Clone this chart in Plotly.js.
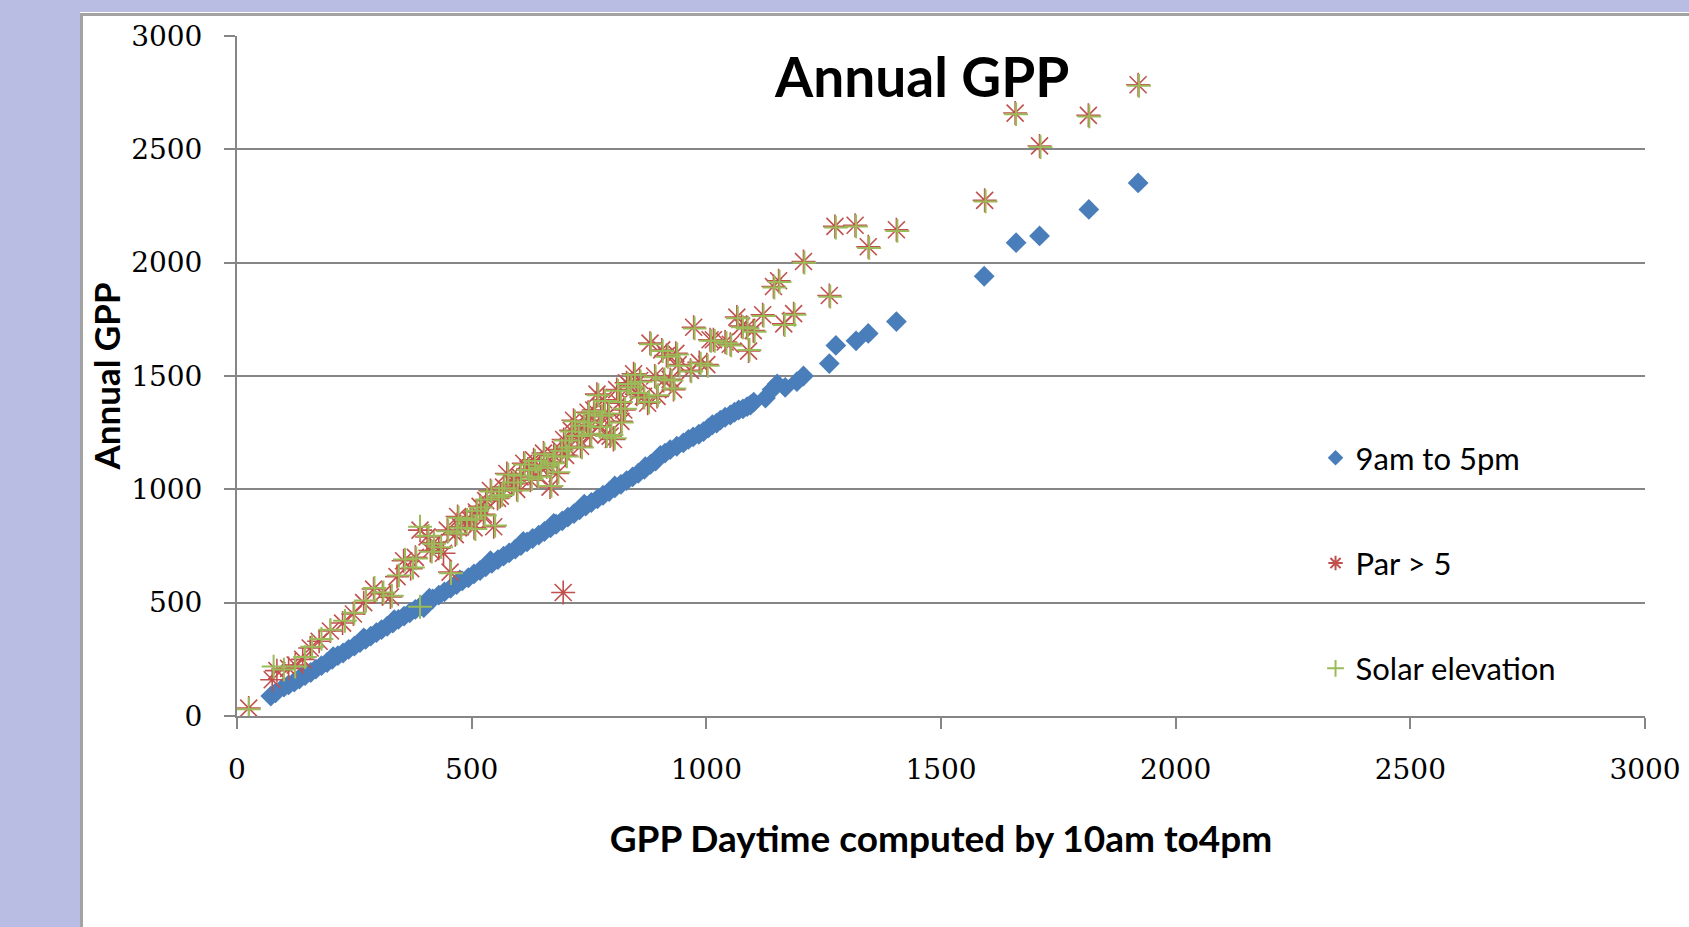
<!DOCTYPE html>
<html>
<head>
<meta charset="utf-8">
<script src="https://cdn.plot.ly/plotly-3.0.1.min.js"></script>
<style>
  html, body { margin: 0; padding: 0; width: 1689px; height: 927px; overflow: hidden; background: #b9bde3; }
  #frame { position: absolute; left: 80px; top: 13px; width: 1700px; height: 1000px; background: #ffffff;
           border-left: 3px solid #a3a3a3; border-top: 3px solid #a3a3a3; box-shadow: 0 -1px 0 #ffffff; }
  #chart { position: absolute; left: 0; top: 0; width: 1689px; height: 927px; }
</style>
</head>
<body>
<div id="frame"></div>
<div id="chart"></div>
<script>
// ---- data ----
const seriesNames = ["9am to 5pm", "Par > 5", "Solar elevation"];

const blueX = [72, 82, 100, 110, 122, 133, 145, 157, 168, 180, 192, 203, 215, 226, 238, 250, 262, 274, 285, 297,
  308, 320, 332, 344, 356, 368, 380, 392, 398, 405, 417, 430, 442, 455, 468, 480, 493, 505, 518, 530,
  543, 556, 568, 580, 593, 605, 618, 630, 643, 655, 668, 680, 693, 705, 718, 730, 743, 755, 768, 780,
  793, 805, 818, 830, 843, 855, 868, 881, 892, 902, 912, 923, 937, 951, 962, 972, 984, 994, 1004, 1013, 1022, 1030, 1040, 1051, 1060, 1069, 1078, 1087, 1094, 1101, 1126,
  1140, 1151, 1168, 1193, 1207, 1262, 1276, 1319, 1345, 1405, 1592, 1660, 1710, 1815, 1920,
  140, 205, 270, 335, 410, 475, 540, 610, 675, 740, 805, 870];
const blueY = [88, 102, 128, 137, 150, 163, 178, 192, 207, 222, 236, 250, 266, 278, 294, 308, 324, 338, 352, 368,
  381, 396, 410, 426, 441, 455, 470, 486, 478, 502, 517, 533, 548, 563, 580, 596, 610, 627, 642, 658,
  673, 690, 705, 720, 736, 752, 768, 783, 798, 814, 830, 846, 861, 877, 893, 910, 926, 942, 958, 974,
  990, 1006, 1022, 1038, 1055, 1071, 1088, 1110, 1125, 1150, 1160, 1175, 1190, 1205, 1220, 1231, 1243, 1255, 1270, 1285, 1292, 1305, 1318, 1328, 1340, 1350, 1355, 1365, 1372, 1385, 1403,
  1440, 1465, 1450, 1475, 1500, 1555, 1635, 1655, 1688, 1740, 1940, 2088, 2118, 2235, 2352,
  180, 262, 345, 425, 520, 600, 685, 770, 850, 935, 1015, 1100];

const parX = [25, 75, 85, 110, 124, 140, 156, 175, 199, 225, 248, 270, 291, 310, 327, 341, 355, 370, 390, 405,
  419, 430, 440, 454, 465, 476, 486, 497, 510, 518, 530, 540, 547, 555, 561, 575, 585, 589, 603, 611,
  620, 625, 632, 645, 653, 660, 667, 675, 682, 689, 695, 696, 705, 717, 725, 738, 745, 752, 760, 767,
  775, 781, 790, 795, 802, 809, 815, 824, 830, 838, 845, 852, 866, 875, 880, 895, 905, 909, 915, 923,
  930, 940, 966, 973, 985, 1001, 1008, 1015, 1040, 1051, 1065, 1075, 1086, 1090, 1100, 1120, 1143, 1154, 1165, 1186,
  1207, 1262, 1274, 1317, 1345, 1405, 1593, 1658, 1710, 1814, 1920,
  380, 412, 448, 470, 505, 525, 568, 596, 640, 672, 700, 712, 732, 748, 772, 786, 818, 858, 890, 935];
const parY = [35, 160, 200, 210, 225, 250, 300, 330, 375, 410, 450, 500, 560, 540, 525, 615, 685, 650, 820, 790,
  765, 740, 718, 635, 800, 835, 860, 865, 900, 925, 950, 995, 835, 960, 970, 1070, 1030, 1025, 1055, 1115,
  1090, 1040, 1130, 1100, 1160, 1100, 1010, 1150, 1070, 1175, 545, 1220, 1180, 1305, 1230, 1275, 1300, 1240, 1350, 1420,
  1320, 1395, 1330, 1235, 1220, 1440, 1380, 1350, 1470, 1455, 1510, 1420, 1410, 1380, 1645, 1410, 1615, 1480, 1590, 1485,
  1440, 1550, 1525, 1715, 1560, 1550, 1660, 1660, 1650, 1640, 1760, 1720, 1715, 1610, 1700, 1770, 1895, 1920, 1730, 1775,
  2005, 1855, 2160, 2165, 2070, 2145, 2275, 2660, 2515, 2650, 2785,
  700, 730, 820, 880, 830, 890, 1010, 1000, 1060, 1120, 1150, 1260, 1190, 1340, 1280, 1240, 1300, 1480, 1500, 1600];

const solX = [25, 78, 100, 124, 145, 160, 180, 199, 230, 250, 275, 293, 312, 330, 345, 358, 375, 390, 390, 408,
  420, 435, 456, 468, 478, 490, 500, 512, 520, 533, 542, 550, 558, 565, 578, 590, 605, 613, 622, 628,
  635, 648, 655, 662, 670, 678, 685, 692, 700, 708, 720, 728, 740, 748, 755, 762, 770, 778, 784, 793,
  798, 805, 812, 818, 827, 833, 840, 848, 855, 868, 878, 882, 897, 907, 911, 918, 926, 932, 943, 968,
  975, 988, 1003, 1010, 1018, 1043, 1053, 1067, 1078, 1088, 1092, 1103, 1122, 1145, 1156, 1167, 1188, 1209, 1264, 1276,
  1319, 1347, 1407, 1595, 1660, 1712, 1816, 1922,
  382, 415, 450, 472, 508, 528, 570, 598, 642, 674, 703, 714, 735, 750, 774, 788, 820, 860, 892, 938];
const solY = [30, 218, 205, 218, 260, 305, 340, 380, 420, 455, 510, 565, 545, 530, 620, 690, 655, 835, 482, 795,
  760, 745, 630, 805, 830, 865, 870, 905, 920, 955, 990, 840, 965, 975, 1065, 1030, 1060, 1110, 1085, 1045,
  1125, 1095, 1155, 1105, 1015, 1145, 1075, 1170, 1215, 1185, 1300, 1235, 1280, 1295, 1245, 1345, 1415, 1325, 1390, 1335,
  1240, 1225, 1435, 1385, 1355, 1465, 1450, 1505, 1425, 1405, 1385, 1640, 1415, 1610, 1485, 1585, 1480, 1445, 1545, 1520,
  1710, 1555, 1545, 1655, 1655, 1645, 1635, 1755, 1715, 1710, 1615, 1695, 1765, 1890, 1915, 1725, 1770, 2000, 1850, 2155,
  2160, 2065, 2140, 2270, 2655, 2510, 2645, 2780,
  695, 725, 815, 875, 825, 885, 1005, 995, 1055, 1115, 1145, 1255, 1185, 1335, 1275, 1235, 1295, 1475, 1495, 1595];

const xTickVals = [0, 500, 1000, 1500, 2000, 2500, 3000];
const yTickVals = [0, 500, 1000, 1500, 2000, 2500, 3000];

// ---- traces ----
const traces = [
  { type: 'scatter', mode: 'markers', name: seriesNames[0], legendgroup: 'a', x: blueX, y: blueY,
    marker: { symbol: 'diamond', size: 16, color: '#4a7ebb', line: { width: 0 } } },
  { type: 'scatter', mode: 'markers', name: seriesNames[1], legendgroup: 'b', x: parX, y: parY,
    marker: { symbol: 'asterisk-open', size: 20, color: '#c0504d', line: { width: 1.6, color: '#c0504d' } } },
  { type: 'scatter', mode: 'markers', name: seriesNames[2], legendgroup: 'c', x: solX, y: solY,
    marker: { symbol: 'cross-thin-open', size: 17, color: '#9bbb59', line: { width: 2, color: '#9bbb59' } } }
];

const layout = {
  width: 1689, height: 927,
  paper_bgcolor: 'rgba(0,0,0,0)', plot_bgcolor: 'rgba(0,0,0,0)',
  margin: { l: 237, r: 44, t: 36, b: 211 },
  showlegend: true,
  title: { text: '<b>Annual GPP</b>', xref: 'container', yref: 'container', x: 0.546, y: 0.916,
           xanchor: 'center', yanchor: 'middle', font: { family: 'Lato, "Open Sans", sans-serif', size: 55, color: '#000' } },
  xaxis: {
    range: [0, 3000], tickvals: xTickVals, ticktext: xTickVals.map(String),
    showgrid: false, zeroline: false, showline: true, linecolor: '#868686', linewidth: 2,
    ticks: 'outside', ticklen: 11, tickwidth: 2, tickcolor: '#868686', ticklabelstandoff: 16,
    tickfont: { family: '"DejaVu Serif", "Liberation Serif", serif', size: 28, color: '#000' },
    title: { text: '<b>GPP Daytime computed by 10am to4pm</b>', standoff: 42,
             font: { family: 'Lato, "Open Sans", sans-serif', size: 37, color: '#000' } },
    automargin: false, fixedrange: true
  },
  yaxis: {
    range: [0, 3000], tickvals: yTickVals, ticktext: yTickVals.map(String),
    showgrid: true, gridcolor: '#868686', gridwidth: 2,
    zeroline: false, showline: true, linecolor: '#868686', linewidth: 2,
    ticks: 'outside', ticklen: 11, tickwidth: 2, tickcolor: '#868686', ticklabelstandoff: 16,
    tickfont: { family: '"DejaVu Serif", "Liberation Serif", serif', size: 28, color: '#000' },
    title: { text: '<b>Annual GPP</b>', standoff: 0,
             font: { family: 'Lato, "Open Sans", sans-serif', size: 35, color: '#000' } },
    automargin: false, fixedrange: true
  },
  legend: {
    x: 0.766, y: 0.419, xanchor: 'left', yanchor: 'top',
    bgcolor: 'rgba(0,0,0,0)', borderwidth: 0,
    font: { family: 'Lato, "Open Sans", sans-serif', size: 31, color: '#000' },
    tracegroupgap: 62, itemsizing: 'constant'
  }
};

Plotly.newPlot('chart', traces, layout, { displayModeBar: false, staticPlot: true });
</script>
</body>
</html>
